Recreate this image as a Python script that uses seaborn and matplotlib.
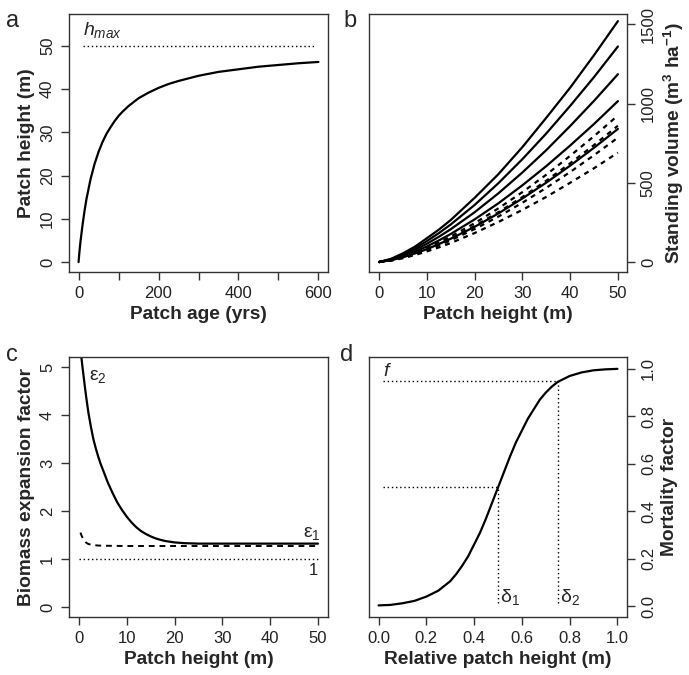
import matplotlib
matplotlib.use('Agg')
import matplotlib.pyplot as plt
import seaborn as sns
import pandas as pd

# ---- panel a: patch height vs age
age = [0, 2, 5, 10, 15, 20, 30, 40, 50, 60, 70, 80, 90, 100, 110, 125, 150, 175, 200, 225,
       250, 300, 350, 400, 450, 500, 550, 600]
height_a = [0, 2.2, 4.9, 8.6, 11.9, 14.7, 19.2, 22.7, 25.5, 27.8, 29.7, 31.2, 32.6, 33.8, 34.8,
            36.1, 37.9, 39.2, 40.3, 41.2, 41.9, 43.1, 44.0, 44.6, 45.2, 45.6, 46.0, 46.3]
h_max = 50

# ---- panel b: standing volume vs patch height
height_b = [0, 2.5, 5, 7.5, 10, 12.5, 15, 20, 25, 30, 35, 40, 45, 50]
vol_solid = [
    [0, 20, 55, 97, 150, 204, 265, 405, 555, 725, 910, 1100, 1305, 1520],
    [0, 18, 48, 87, 132, 182, 237, 360, 498, 649, 811, 985, 1167, 1360],
    [0, 15, 42, 76, 115, 159, 207, 314, 434, 565, 706, 858, 1017, 1185],
    [0, 13, 36, 65, 98, 136, 177, 269, 371, 484, 605, 735, 871, 1015],
    [0, 11, 30, 54, 81, 113, 147, 222, 307, 401, 501, 608, 721, 840],
]
vol_dashed = [
    [0, 12, 33, 59, 90, 124, 161, 245, 339, 441, 551, 670, 794, 925],
    [0, 11, 31, 55, 83, 115, 150, 228, 315, 410, 513, 623, 738, 860],
    [0, 10, 28, 50, 76, 105, 137, 208, 287, 374, 468, 568, 674, 785],
    [0, 9, 24, 44, 67, 92, 120, 183, 253, 329, 411, 500, 592, 690],
]

# ---- panel c: biomass expansion factors
h_eps2 = [0.4, 0.5, 0.75, 1, 1.25, 1.5, 1.75, 2, 2.5, 3, 3.5, 4, 4.5, 5, 6, 7, 8, 9, 10, 11,
          12, 13, 14, 15, 16, 17, 18, 19, 20, 22, 25, 30, 40, 50]
eps2 = [5.3, 5.2, 4.98, 4.78, 4.57, 4.38, 4.2, 4.03, 3.75, 3.5, 3.31, 3.14, 2.99, 2.86, 2.6,
        2.38, 2.18, 2.02, 1.88, 1.76, 1.66, 1.58, 1.52, 1.47, 1.43, 1.40, 1.375, 1.36, 1.345,
        1.33, 1.32, 1.32, 1.32, 1.32]
h_eps1 = [0.3, 0.6, 1, 1.5, 2, 3, 4, 6, 10, 20, 30, 40, 50]
eps1 = [1.55, 1.47, 1.40, 1.34, 1.31, 1.29, 1.28, 1.275, 1.27, 1.27, 1.27, 1.27, 1.27]

# ---- panel d: mortality factor
rel_h = [0, 0.05, 0.1, 0.15, 0.2, 0.25, 0.3, 0.325, 0.35, 0.375, 0.4, 0.425, 0.45, 0.475, 0.5,
         0.525, 0.55, 0.575, 0.6, 0.625, 0.65, 0.675, 0.7, 0.725, 0.75, 0.8, 0.85, 0.9, 0.95, 1.0]
mort = [0.003, 0.005, 0.012, 0.022, 0.04, 0.065, 0.105, 0.135, 0.17, 0.21, 0.26, 0.31, 0.37,
        0.435, 0.5, 0.565, 0.63, 0.69, 0.74, 0.79, 0.83, 0.87, 0.9, 0.925, 0.945, 0.97, 0.985,
        0.994, 0.998, 1.0]
delta1, delta2 = 0.5, 0.75
f_val = 0.95

sns.set_theme(style='ticks')
plt.rcParams['font.family'] = ['Liberation Sans', 'DejaVu Sans']
plt.rcParams['mathtext.fontset'] = 'custom'
plt.rcParams['mathtext.rm'] = 'Liberation Sans'
plt.rcParams['mathtext.it'] = 'Liberation Sans:italic'
plt.rcParams['mathtext.bf'] = 'Liberation Sans:bold'
plt.rcParams['lines.solid_joinstyle'] = 'round'

EDGE = '#333333'
TICK = 12
LAB = 13.8
DOT = (0, (1, 2))

fig = plt.figure(figsize=(6.89, 6.75), dpi=100)
ax_a = fig.add_axes([0.1001, 0.597, 0.376, 0.3823])
ax_b = fig.add_axes([0.5356, 0.597, 0.3744, 0.3823])
ax_c = fig.add_axes([0.1001, 0.0859, 0.376, 0.3852])
ax_d = fig.add_axes([0.5356, 0.0859, 0.3744, 0.3852])


def style(ax, right=False):
    for s in ax.spines.values():
        s.set_color(EDGE)
        s.set_linewidth(1.0)
    ax.tick_params(colors=EDGE, labelcolor='#222222', labelsize=TICK, length=6, width=1, pad=4)
    if right:
        ax.yaxis.tick_right()
        ax.yaxis.set_label_position('right')
    for lab in ax.get_yticklabels():
        lab.set_rotation(90)
        lab.set_va('center')
        lab.set_ha('left' if right else 'right')


# a
sns.lineplot(x=age, y=height_a, ax=ax_a, color='black', linewidth=1.6)
ax_a.plot([10, 590], [h_max, h_max], color='black', linestyle=DOT, linewidth=1)
ax_a.text(10, 51.3, r'$h_{max}$', fontsize=14, va='bottom', ha='left')
ax_a.set_xlim(-24, 624)
ax_a.set_ylim(-2.3, 57.4)
ax_a.set_xticks(range(0, 601, 100))
ax_a.set_xticklabels(['0', '', '200', '', '400', '', '600'])
ax_a.set_yticks(range(0, 51, 10))
ax_a.set_xlabel('Patch age (yrs)', fontsize=LAB, fontweight='bold')
ax_a.set_ylabel('Patch height (m)', fontsize=LAB, fontweight='bold')
style(ax_a)

# b
for v in vol_solid:
    sns.lineplot(x=height_b, y=v, ax=ax_b, color='black', linewidth=1.6)
for v in vol_dashed:
    sns.lineplot(x=height_b, y=v, ax=ax_b, color='black', linewidth=1.6,
                 linestyle=(0, (2.2, 2.2)))
ax_b.set_xlim(-2.1, 51.9)
ax_b.set_ylim(-63, 1565)
ax_b.set_xticks(range(0, 51, 10))
ax_b.set_yticks([0, 500, 1000, 1500])
ax_b.set_xlabel('Patch height (m)', fontsize=LAB, fontweight='bold')
ax_b.set_ylabel(r'Standing volume (m$^\mathbf{3}$ ha$^\mathbf{-1}$)', fontsize=LAB,
                fontweight='bold')
style(ax_b, right=True)

# c
sns.lineplot(x=h_eps2, y=eps2, ax=ax_c, color='black', linewidth=1.6)
sns.lineplot(x=h_eps1, y=eps1, ax=ax_c, color='black', linewidth=1.4,
             linestyle=(0, (3, 2.5)))
ax_c.plot([0, 50], [1, 1], color='black', linestyle=DOT, linewidth=1)
ax_c.text(2, 4.62, r'ε$_\mathrm{2}$', fontsize=14, va='bottom', ha='left')
ax_c.text(50.6, 1.36, r'ε$_1$', fontsize=14, va='bottom', ha='right')
ax_c.text(50, 0.92, '1', fontsize=12, va='top', ha='right', color='#222222')
ax_c.set_xlim(-2.1, 52.1)
ax_c.set_ylim(-0.21, 5.21)
ax_c.set_xticks(range(0, 51, 10))
ax_c.set_yticks(range(0, 6))
ax_c.set_xlabel('Patch height (m)', fontsize=LAB, fontweight='bold')
ax_c.set_ylabel('Biomass expansion factor', fontsize=LAB, fontweight='bold')
style(ax_c)

# d
sns.lineplot(x=rel_h, y=mort, ax=ax_d, color='black', linewidth=1.6)
ax_d.plot([0.017, delta2], [f_val, f_val], color='black', linestyle=DOT, linewidth=1)
ax_d.plot([delta2, delta2], [0.013, f_val], color='black', linestyle=DOT, linewidth=1)
ax_d.plot([0.017, delta1], [0.5, 0.5], color='black', linestyle=DOT, linewidth=1)
ax_d.plot([delta1, delta1], [0.013, 0.5], color='black', linestyle=DOT, linewidth=1)
ax_d.text(0.02, 0.955, r'$f$', fontsize=14, va='bottom', ha='left')
ax_d.text(delta1 + 0.008, -0.005, r'δ$_\mathrm{1}$', fontsize=14, va='bottom', ha='left')
ax_d.text(delta2 + 0.008, -0.005, r'δ$_\mathrm{2}$', fontsize=14, va='bottom', ha='left')
ax_d.set_xlim(-0.04, 1.04)
ax_d.set_ylim(-0.046, 1.05)
ax_d.set_xticks([0, 0.2, 0.4, 0.6, 0.8, 1.0])
ax_d.set_xticklabels(['0.0', '0.2', '0.4', '0.6', '0.8', '1.0'])
ax_d.set_yticks([0, 0.2, 0.4, 0.6, 0.8, 1.0])
ax_d.set_yticklabels(['0.0', '0.2', '0.4', '0.6', '0.8', '1.0'])
ax_d.set_xlabel('Relative patch height (m)', fontsize=LAB, fontweight='bold')
ax_d.set_ylabel('Mortality factor', fontsize=LAB, fontweight='bold')
style(ax_d, right=True)

for ax, letter, x, y in [(ax_a, 'a', 0.008, 0.985), (ax_b, 'b', 0.498, 0.985),
                         (ax_c, 'c', 0.008, 0.49), (ax_d, 'd', 0.494, 0.49)]:
    fig.text(x, y, letter, fontsize=17, va='top', ha='left')

fig.savefig('out.png', dpi=100)
